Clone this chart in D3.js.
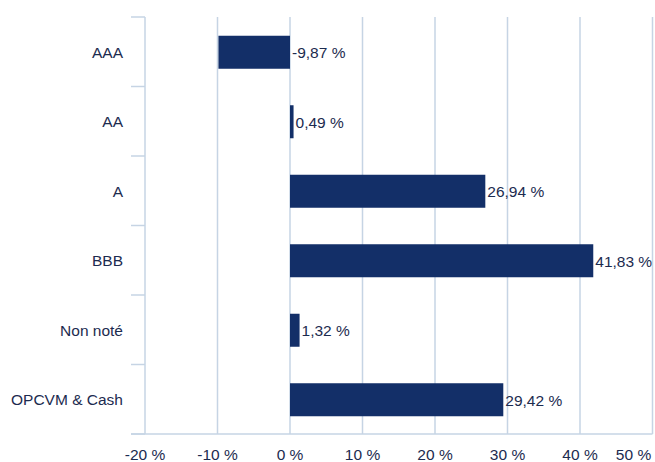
<!DOCTYPE html>
<html>
<head>
<meta charset="utf-8">
<script src="https://cdn.jsdelivr.net/npm/d3@7/dist/d3.min.js"></script>
<style>
  html, body { margin: 0; padding: 0; background: #fff; }
  svg text { font-family: "Helvetica Neue", Arial, "Liberation Sans", sans-serif; }
</style>
</head>
<body>
<svg id="chart" width="655" height="462"></svg>
<script>
// Allocation by credit rating (% of portfolio)
const categories = ["AAA", "AA", "A", "BBB", "Non noté", "OPCVM & Cash"];
const values = [-9.87, 0.49, 26.94, 41.83, 1.32, 29.42];
const ticks = [-20, -10, 0, 10, 20, 30, 40, 50];

// French number style: comma decimal, plain hyphen for negatives
const fmt = v => v.toFixed(2).replace(".", ",") + " %";
const tickFmt = v => v + " %";

const svg = d3.select("#chart");
const plotTop = 17, plotBottom = 434, plotLeft = 145, plotRight = 652.5;
const fontSize = 15.5;

const x = d3.scaleLinear().domain([-20, 50]).range([plotLeft, plotRight]);
const y = d3.scaleBand().domain(categories).range([plotTop, plotBottom]).padding(0);

const gridColor = "#c6d4e4";
const textColor = "#1c2b4f";
const barColor = "#132f68";

// vertical gridlines
svg.append("g")
  .selectAll("line")
  .data(ticks.filter(t => t !== -20))
  .join("line")
  .attr("x1", d => x(d)).attr("x2", d => x(d))
  .attr("y1", plotTop).attr("y2", plotBottom)
  .attr("stroke", gridColor).attr("stroke-width", 1.5);

// left axis with category separator ticks
const yBounds = categories.map(c => y(c)).concat([plotBottom]);
svg.append("line")
  .attr("x1", x(-20)).attr("x2", x(-20))
  .attr("y1", plotTop).attr("y2", plotBottom)
  .attr("stroke", gridColor).attr("stroke-width", 1.5);
svg.append("g")
  .selectAll("line")
  .data(yBounds)
  .join("line")
  .attr("x1", 131).attr("x2", x(-20))
  .attr("y1", d => d).attr("y2", d => d)
  .attr("stroke", gridColor).attr("stroke-width", 1.5);

// bottom axis line
svg.append("line")
  .attr("x1", 131).attr("x2", x(50))
  .attr("y1", plotBottom).attr("y2", plotBottom)
  .attr("stroke", gridColor).attr("stroke-width", 1.5);

// category labels
svg.append("g")
  .selectAll("text")
  .data(categories)
  .join("text")
  .attr("x", 123)
  .attr("y", d => y(d) + y.bandwidth() / 2 + 2)
  .attr("text-anchor", "end")
  .attr("dominant-baseline", "middle")
  .attr("font-size", fontSize)
  .attr("fill", textColor)
  .text(d => d);

// x tick labels (last one kept inside the frame)
svg.append("g")
  .selectAll("text")
  .data(ticks)
  .join("text")
  .attr("x", d => d === 50 ? x(d) - 19 : x(d))
  .attr("y", 456)
  .attr("text-anchor", "middle")
  .attr("dominant-baseline", "middle")
  .attr("font-size", fontSize)
  .attr("fill", textColor)
  .text(tickFmt);

// bars
const barH = 33;
const data = categories.map((c, i) => ({ c, v: values[i] }));
svg.append("g")
  .selectAll("rect")
  .data(data)
  .join("rect")
  .attr("x", d => x(Math.min(0, d.v)))
  .attr("y", d => y(d.c) + y.bandwidth() / 2 - barH / 2 + 0.5)
  .attr("width", d => Math.max(1.5, Math.abs(x(d.v) - x(0))))
  .attr("height", barH)
  .attr("fill", barColor);

// value labels
svg.append("g")
  .selectAll("text")
  .data(data)
  .join("text")
  .attr("x", d => x(Math.max(0, d.v)) + 2)
  .attr("y", d => y(d.c) + y.bandwidth() / 2 + 2.5)
  .attr("dominant-baseline", "middle")
  .attr("font-size", fontSize)
  .attr("fill", textColor)
  .text(d => fmt(d.v));
</script>
</body>
</html>
